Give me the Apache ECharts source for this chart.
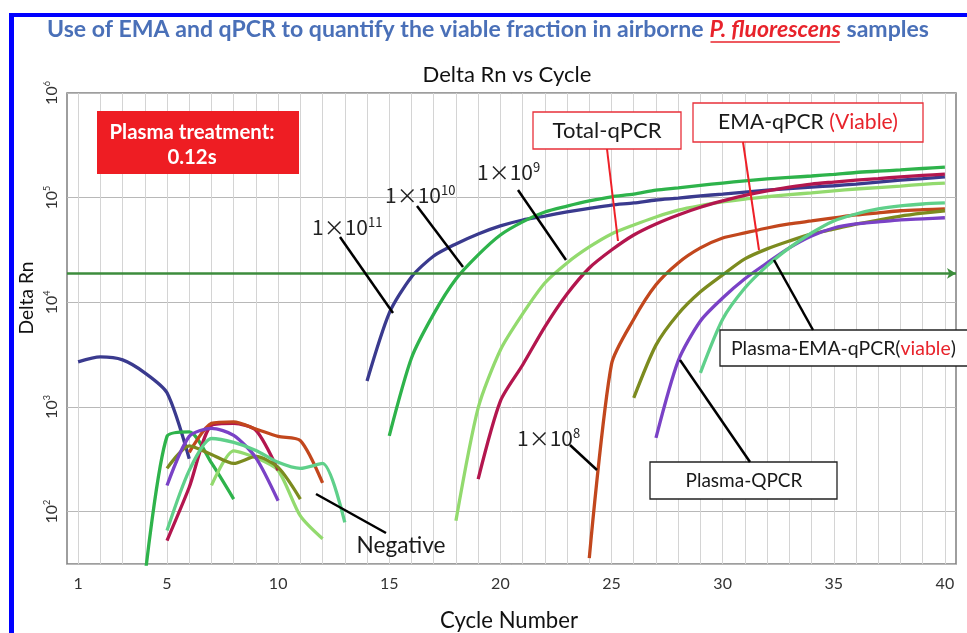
<!DOCTYPE html>
<html>
<head>
<meta charset="utf-8">
<script src="https://cdn.jsdelivr.net/npm/echarts@6.0.0/dist/echarts.min.js"></script>
<style>
html,body{margin:0;padding:0;background:#fff;}
#chart{width:967px;height:633px;}
</style>
</head>
<body>
<div id="chart"></div>
<script>
const N = null;
const cycles = [1,2,3,4,5,6,7,8,9,10,11,12,13,14,15,16,17,18,19,20,21,22,23,24,25,26,27,28,29,30,31,32,33,34,35,36,37,38,39,40];
const xTickLabels = [1,5,10,15,20,25,30,35,40];
const threshold = 18900;

const sample1e11 = [2700,3010,2820,2120,1365,320,N,N,N,N,N,N,N,1775,7900,17500,27700,36100,45000,53700,61200,66800,73000,79000,85000,89000,95000,99000,104000,108000,113000,118000,122000,126000,130000,135000,141000,147000,152000,158000];
const sample1e10 = [N,N,N,23,524,578,292,132,N,N,N,N,N,N,530,2940,7750,16700,28400,44000,58700,73000,83000,93000,102000,108000,118000,124000,131000,138000,145000,151000,156000,161000,167000,174000,179000,184000,190000,196000];
const sample1e9 = [N,N,N,N,N,N,178,381,327,248,91,55,N,N,N,N,N,82,980,3510,7750,15300,23800,33800,45000,54800,65400,76000,84000,91000,97000,102000,107000,111000,116000,121000,125000,129000,134000,138000];
const totalQPCR = [N,N,N,N,53,171,667,697,597,248,N,N,N,N,N,N,N,N,205,1140,2520,5830,12000,21300,31600,44000,56100,68400,81000,93000,105000,116000,126000,135000,141000,147000,152000,158000,163000,168000];
const sample1e8 = [N,N,N,N,N,368,697,720,617,524,478,188,N,N,N,N,N,N,N,N,N,N,N,36,2570,6900,14700,23800,33100,41200,46000,51300,56100,59900,64000,68400,71700,75000,76700,78000];
const emaQPCR = [N,N,N,N,259,426,352,289,337,265,132,N,N,N,N,N,N,N,N,N,N,N,N,N,N,1220,3900,7740,12600,18300,26000,32400,38500,45000,50000,56000,61000,66500,71000,75000];
const plasmaQPCR = [N,N,N,N,178,524,625,536,327,127,N,N,N,N,N,N,N,N,N,N,N,N,N,N,N,N,507,2760,6640,11000,16800,23800,33100,43000,51300,56100,58700,61400,62800,64300];
const plasmaEMAQPCR = [N,N,N,N,66,248,500,459,385,296,259,289,79,N,N,N,N,N,N,N,N,N,N,N,N,N,N,N,2120,6900,13700,22300,33100,46000,59900,69800,78000,83500,87000,89000];

const seriesDefs = [
  {name:'1×10^11', data:sample1e11, color:'#3A3A8E'},
  {name:'1×10^10', data:sample1e10, color:'#2EB34B'},
  {name:'1×10^9', data:sample1e9, color:'#93DA6E'},
  {name:'Total-qPCR', data:totalQPCR, color:'#B3164E'},
  {name:'1×10^8', data:sample1e8, color:'#C2471D'},
  {name:'EMA-qPCR', data:emaQPCR, color:'#7C8B1F'},
  {name:'Plasma-QPCR', data:plasmaQPCR, color:'#7A42C6'},
  {name:'Plasma-EMA-qPCR', data:plasmaEMAQPCR, color:'#5FD08A'}
];

const ctx = document.createElement('canvas').getContext('2d');
function fit(text, target, weight, family, style) {
  ctx.font = (style||'normal') + ' ' + weight + ' 100px ' + family;
  return 100 * target / ctx.measureText(text).width;
}

const F = 'Lato';
const CJK = "'Noto Sans CJK JP'";

const t1 = 'Use of EMA and qPCR to quantify the viable fraction in airborne ';
const t2 = 'P. fluorescens';
const t3 = ' samples';
ctx.font = 'normal bold 100px ' + F;
const wA = ctx.measureText(t1).width;
ctx.font = 'italic bold 100px ' + F;
const wB = ctx.measureText(t2).width;
ctx.font = 'normal bold 100px ' + F;
const wC = ctx.measureText(t3).width;
const titleSize = 100 * 882 / (wA + wB + wC);
const titleX = 47, titleY = 30;
const xB = titleX + wA * titleSize / 100;
const xC = xB + wB * titleSize / 100;

function txt(x, y, text, size, opts) {
  opts = opts || {};
  return {
    type:'text', x:x, y:y, rotation: opts.rotation || 0, z:100,
    style:{text:text, fontSize:size, fontFamily:opts.family||F, fontWeight:opts.weight||'normal',
      fontStyle:opts.style||'normal', fill:opts.fill||'#1a1a1a',
      align:opts.align||'center', verticalAlign:'middle', rich:opts.rich}
  };
}
function line(x1,y1,x2,y2,color,w) {
  return {type:'line', z:99, shape:{x1:x1,y1:y1,x2:x2,y2:y2}, style:{stroke:color, lineWidth:w||2.5}};
}
function box(x,y,w,h,stroke,lw) {
  return {type:'rect', z:98, shape:{x:x,y:y,width:w,height:h}, style:{fill:'#fff', stroke:stroke, lineWidth:lw||1.3}};
}
function sci(x, y, base, exp, size) {
  return {
    type:'text', x:x, y:y, z:100,
    style:{text:'{a|' + base + '}{s|' + exp + '}', align:'left', verticalAlign:'middle',
      rich:{a:{fontSize:size, fontFamily:CJK, fill:'#222', lineHeight:size+2},
            s:{fontSize:Math.round(size*0.62), fontFamily:CJK, fill:'#222', verticalAlign:'top', lineHeight:size*0.62}}}
  };
}

const subSize = fit('Delta Rn vs Cycle', 169, 'normal', F);
const xNameSize = fit('Cycle Number', 138, 'normal', F);
const yNameSize = fit('Delta Rn', 73, 'normal', F);
const plasmaSize = fit('Plasma treatment:', 165, 'bold', F);
const negSize = fit('Negative', 89, 'normal', F);
const totalSize = fit('Total-qPCR', 109, 'normal', F);
const emaSize = fit('EMA-qPCR (Viable)', 180, 'normal', F);
const pemaSize = fit('Plasma-EMA-qPCR(viable)', 224, 'normal', F);
const pqSize = fit('Plasma-QPCR', 117, 'normal', F);

const graphics = [
  {type:'rect', z:1, shape:{x:9,y:13,width:958,height:4}, style:{fill:'#0000FF'}},
  {type:'rect', z:1, shape:{x:9,y:13,width:5,height:620}, style:{fill:'#0000FF'}},
  txt(titleX, titleY, t1, titleSize, {align:'left', weight:'bold', fill:'#4A70B8'}),
  txt(xB, titleY, t2, titleSize, {align:'left', weight:'bold', style:'italic', fill:'#E8232B'}),
  txt(xC, titleY, t3, titleSize, {align:'left', weight:'bold', fill:'#4A70B8'}),
  {type:'line', z:100, shape:{x1:xB+1, y1:titleY+titleSize*0.52, x2:xC-1, y2:titleY+titleSize*0.52}, style:{stroke:'#E8232B', lineWidth:1.5}},
  txt(507, 75, 'Delta Rn vs Cycle', subSize, {fill:'#111'}),
  txt(509, 621, 'Cycle Number', xNameSize, {fill:'#111'}),
  txt(27, 298, 'Delta Rn', yNameSize, {fill:'#111', rotation:Math.PI/2}),
  {type:'rect', z:98, shape:{x:97,y:111,width:202,height:63}, style:{fill:'#EE1D23'}},
  txt(192, 132, 'Plasma treatment:', plasmaSize, {weight:'bold', fill:'#fff'}),
  txt(192, 157, '0.12s', plasmaSize, {weight:'bold', fill:'#fff'}),
  sci(312, 227, '1×10', '11', 21),
  line(340,237,393,313,'#000'),
  sci(385, 195, '1×10', '10', 21),
  line(417,206,463,267,'#000'),
  sci(477, 172, '1×10', '9', 21),
  line(518,190,566,260,'#000'),
  sci(517, 438, '1×10', '8', 21),
  line(570,445,597,470,'#000'),
  txt(401, 546, 'Negative', negSize, {fill:'#1a1a1a'}),
  line(316,494,386,533,'#000'),
  box(533,112,148,37,'#E8303A',1.3),
  txt(607, 131, 'Total-qPCR', totalSize),
  line(607,149,618,241,'#EE2028',2),
  box(693,103,230,39,'#E8303A',1.3),
  {type:'text', x:808, y:122, z:100, style:{text:'{a|EMA-qPCR }{r|(Viable)}', align:'center', verticalAlign:'middle',
    rich:{a:{fontSize:emaSize, fontFamily:F, fill:'#1a1a1a'}, r:{fontSize:emaSize, fontFamily:F, fill:'#E8232B'}}}},
  line(743,142,759,250,'#EE2028',2),
  box(720,330,260,36,'#222',1.3),
  {type:'text', x:731, y:349, z:100, style:{text:'{a|Plasma-EMA-qPCR(}{r|viable}{a|)}', align:'left', verticalAlign:'middle',
    rich:{a:{fontSize:pemaSize, fontFamily:F, fill:'#1a1a1a'}, r:{fontSize:pemaSize, fontFamily:F, fill:'#E8232B'}}}},
  line(774,260,813,330,'#000'),
  box(650,462,187,37,'#222',1.3),
  txt(744, 481, 'Plasma-QPCR', pqSize),
  line(680,360,750,462,'#000')
];

const series = seriesDefs.map(function(s){
  return {
    name:s.name, type:'line', showSymbol:false, symbol:'none', smooth:0.25, z:3,
    data: cycles.map(function(c,i){ return [c, s.data[i]]; }),
    lineStyle:{color:s.color, width:3.3}, itemStyle:{color:s.color},
    connectNulls:false, silent:true, animation:false
  };
});
series.unshift({
  name:'threshold', type:'line', data:[], z:2, silent:true, animation:false,
  markLine:{silent:true, symbol:['none','arrow'], symbolSize:[8,9], label:{show:false},
    lineStyle:{color:'#3C8C3C', width:2.5, type:'solid'}, data:[{yAxis:threshold}], animation:false}
});

const chart = echarts.init(document.getElementById('chart'), null, {renderer:'canvas'});
chart.setOption({
  animation:false,
  backgroundColor:'#fff',
  grid:{left:67, right:11, top:93, bottom:69, show:true, borderColor:'#7F7F7F', borderWidth:1.5, backgroundColor:'transparent'},
  xAxis:{
    type:'value', min:0.5, max:40.5, interval:0.5,
    axisLine:{show:false}, axisTick:{show:false},
    axisLabel:{fontFamily:F, fontSize:16, color:'#333', margin:12,
      formatter:function(v){ return xTickLabels.indexOf(v) >= 0 ? String(v) : ''; }},
    splitLine:{show:true, showMinLine:true, showMaxLine:true, lineStyle:{color:['rgba(0,0,0,0)','#D4D4D4'], width:1}}
  },
  yAxis:{
    type:'log', logBase:10, min:31.6227766, max:1000000,
    axisLine:{show:false}, axisTick:{show:false},
    axisLabel:{rotate:90, margin:6,
      formatter:function(v){ const l = Math.log10(v); const r = Math.round(l); return Math.abs(l-r) < 1e-4 ? '{b|10}{s|' + r + '}' : ''; },
      rich:{b:{fontFamily:F, fontSize:16, color:'#333', lineHeight:18}, s:{fontFamily:F, fontSize:9, color:'#333', verticalAlign:'top', lineHeight:9}}},
    splitLine:{show:true, lineStyle:{color:'#B8B8B8', width:1}}
  },
  series:series,
  graphic:graphics
});
</script>
</body>
</html>
